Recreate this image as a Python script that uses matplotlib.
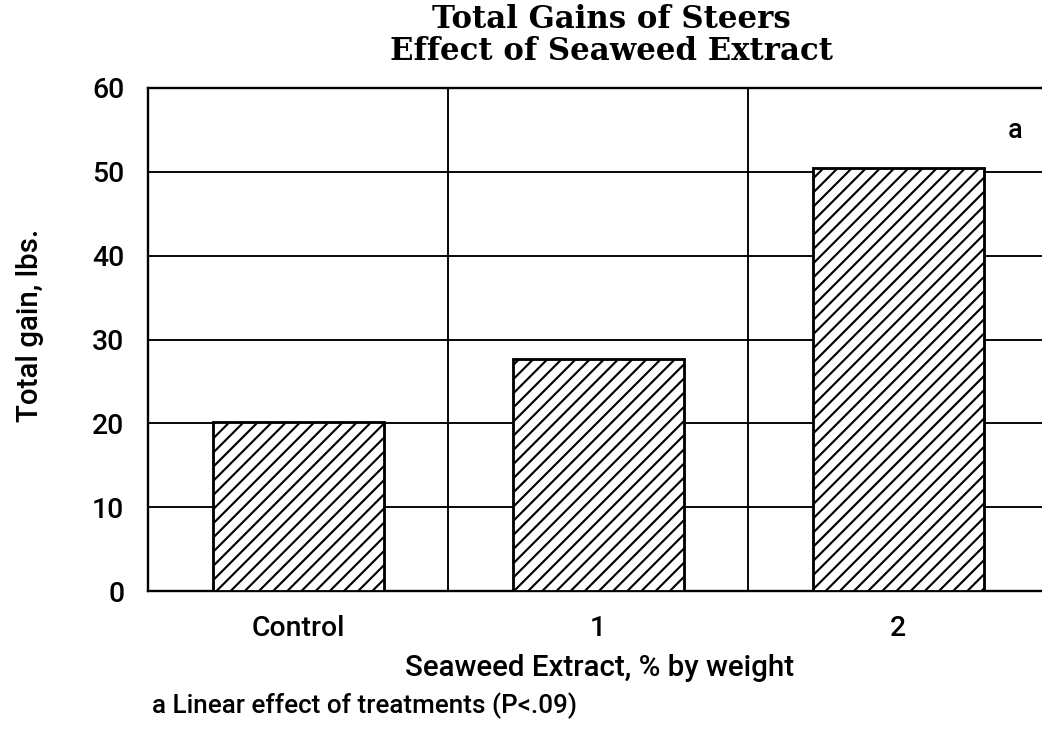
import matplotlib
matplotlib.use('Agg')
import matplotlib.pyplot as plt
import numpy as np

categories = ['Control', '1', '2']
total_gain = [20.2, 27.7, 50.4]
y_ticks = [0, 10, 20, 30, 40, 50, 60]

DPI = 85
W, H = 1042, 730

plt.rcParams['hatch.linewidth'] = 1.8
plt.rcParams['font.family'] = ['Roboto', 'DejaVu Sans']
plt.rcParams['font.weight'] = 'medium'

fig = plt.figure(figsize=(W / DPI, H / DPI), dpi=DPI)
ax = fig.add_axes([148 / W, (H - 591) / H, 900 / W, 503 / H])

x = np.arange(len(categories))
ax.bar(x, total_gain, width=0.57, color='white', edgecolor='black',
       linewidth=2.4, hatch='//', zorder=3)

ax.set_xlim(-0.5, 2.5)
ax.set_ylim(0, 60)
ax.set_yticks(y_ticks)
ax.set_xticks(x)
ax.set_xticklabels(categories)
ax.tick_params(length=0, labelsize=24, pad=20)
ax.tick_params(axis='x', pad=20)

for y in y_ticks[1:-1]:
    ax.axhline(y, color='black', linewidth=1.6, zorder=1)
for xv in [0.5, 1.5]:
    ax.axvline(xv, color='black', linewidth=1.6, zorder=1)
for s in ax.spines.values():
    s.set_linewidth(2.0)

ax.text(2.39, 54.9, 'a', fontsize=23, ha='center', va='center')

fig.text(611 / W, 1 - 20 / H, 'Total Gains of Steers', ha='center', va='center',
         family='DejaVu Serif', fontweight='bold', fontsize=26)
fig.text(611 / W, 1 - 52 / H, 'Effect of Seaweed Extract', ha='center', va='center',
         family='DejaVu Serif', fontweight='bold', fontsize=26)

fig.text(30 / W, 1 - 325 / H, 'Total gain, lbs.', rotation=90, ha='center',
         va='center', fontsize=25)
fig.text(600 / W, 1 - 668 / H, 'Seaweed Extract, % by weight', ha='center',
         va='center', fontsize=25)
fig.text(152 / W, 1 - 706 / H, 'a Linear effect of treatments (P<.09)', ha='left',
         va='center', fontsize=22)

fig.savefig('out.png', dpi=DPI)
